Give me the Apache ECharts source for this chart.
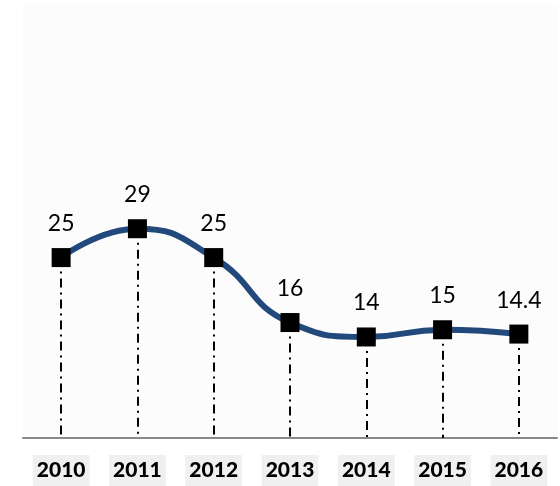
<!DOCTYPE html>
<html>
	<head>
		<meta charset="UTF-8">
		<script src="https://cdn.jsdelivr.net/npm/echarts@6/dist/echarts.min.js"></script>
		<style>
			html, body {margin:0; padding:0; background:#ffffff;}
			#chart {width:560px; height:486px;}
		</style>
	</head>
	<body>
		<div id="chart"></div>
		<script>
			// data
			const years = ['2010', '2011', '2012', '2013', '2014', '2015', '2016'];
			const values = [25, 29, 25, 16, 14, 15, 14.4];
			const yMin = 0;
			const yMax = 60;

			// dash-dot drop lines from each point down to the axis
			const dropLines = years.map(function (y, i) {
				return [{coord: [i, values[i]]}, {coord: [i, yMin]}];
			});

			const chart = echarts.init(document.getElementById('chart'), null, {renderer: 'canvas'});
			chart.setOption({
				animation: false,
				backgroundColor: '#ffffff',
				grid: {
					left: 23, right: 3, top: 5, bottom: 48,
					show: true, backgroundColor: '#fcfcfc', borderWidth: 0
				},
				xAxis: {
					type: 'category',
					data: years,
					boundaryGap: true,
					axisLine: {lineStyle: {color: '#8a8a8a', width: 2}},
					axisTick: {show: false},
					axisLabel: {
						margin: 17,
						fontFamily: 'Lato',
						fontWeight: 900,
						fontSize: 21,
						lineHeight: 23,
						color: '#000000',
						backgroundColor: '#f0f0f0',
						padding: [4, 4]
					}
				},
				yAxis: {
					type: 'value',
					min: yMin,
					max: yMax,
					show: false,
					splitLine: {show: false}
				},
				series: [{
					type: 'line',
					data: values,
					smooth: 0.5,
					symbol: 'rect',
					symbolSize: 19,
					itemStyle: {color: '#000000'},
					lineStyle: {color: '#22497b', width: 6},
					z: 3,
					label: {
						show: true,
						position: 'top',
						distance: 13,
						fontFamily: 'Lato',
						fontSize: 23,
						color: '#000000'
					},
					markLine: {
						silent: true,
						symbol: ['none', 'none'],
						label: {show: false},
						z: 1,
						lineStyle: {color: '#000000', width: 2, type: [9, 5, 2, 5], opacity: 1},
						data: dropLines
					}
				}]
			});
		</script>
	</body>
</html>
